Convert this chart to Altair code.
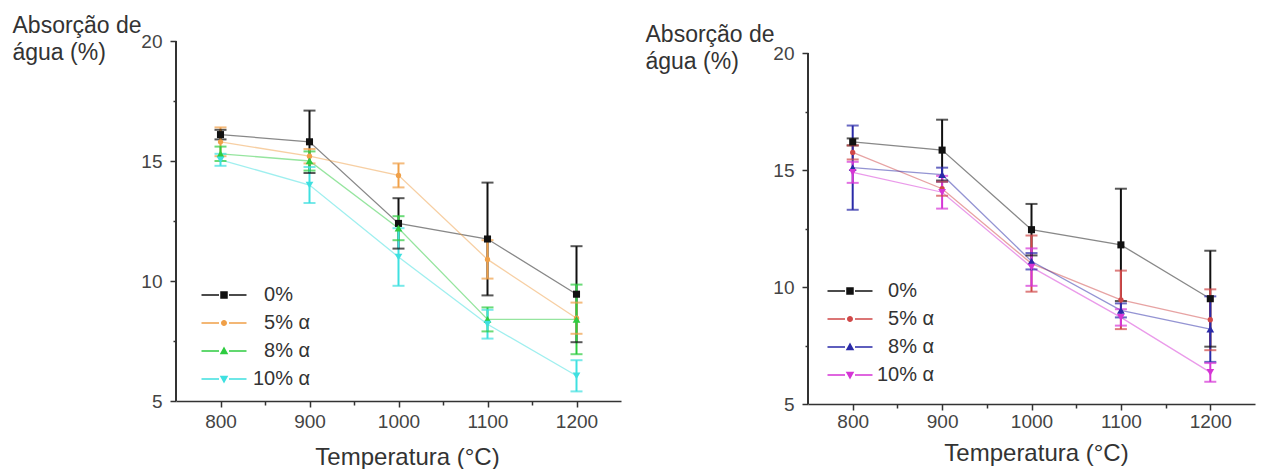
import altair as alt
import pandas as pd

temps = [800, 900, 1000, 1100, 1200]
# zero-width space + figure space keeps single-digit labels aligned like the original
series = ["\u200b\u20070%", "\u200b\u20075% α", "\u200b\u20078% α", "10% α"]
series_idx = [0, 1, 2, 3]

# left panel (values and error half-widths, %)
left_0 = [16.1, 15.8, 12.4, 11.75, 9.45]
left_0_err = [0.2, 1.3, 1.05, 2.35, 2.0]
left_5 = [15.8, 15.2, 14.4, 10.9, 8.45]
left_5_err = [0.6, 0.3, 0.5, 0.8, 0.65]
left_8 = [15.3, 15.0, 12.2, 8.4, 8.4]
left_8_err = [0.3, 0.4, 0.5, 0.5, 1.45]
left_10 = [15.05, 14.0, 11.0, 8.2, 6.05]
left_10_err = [0.25, 0.75, 1.2, 0.6, 0.65]

# right panel
right_0 = [16.2, 15.85, 12.45, 11.8, 9.5]
right_0_err = [0.15, 1.3, 1.1, 2.4, 2.05]
right_5 = [15.75, 14.2, 11.0, 9.45, 8.6]
right_5_err = [0.3, 0.3, 1.2, 1.25, 1.3]
right_8 = [15.1, 14.8, 11.1, 9.0, 8.2]
right_8_err = [1.8, 0.3, 0.35, 0.3, 1.4]
right_10 = [14.9, 14.05, 10.85, 8.7, 6.35]
right_10_err = [0.45, 0.7, 0.8, 0.35, 0.4]

left_colors = ["#111111", "#f0a048", "#2ecc40", "#3fe0e0"]
right_colors = ["#111111", "#d04848", "#2a2aa8", "#d535d5"]

point_shapes = ["square", "circle", "triangle-up", "triangle-down"]
point_sizes = [50, 28, 60, 60]

x_title = "Temperatura (°C)"
y_title = ["Absorção de", "água (%)"]
y_ticks = [5, 7.5, 10, 12.5, 15, 17.5, 20]
x_ticks = [800, 850, 900, 950, 1000, 1050, 1100, 1150, 1200]

FONT = "Liberation Sans"

# legend glyphs: line segments + marker (unit coords, 5 px per unit)
_line = "M-4.5,-0.15H-1V0.15H-4.5Z M1,-0.15H4.5V0.15H1Z "
legend_paths = [
    _line + "M-0.75,-0.75H0.75V0.75H-0.75Z",
    _line + "M-0.6,0A0.6,0.6 0 1,1 0.6,0A0.6,0.6 0 1,1 -0.6,0Z",
    _line + "M0,-0.9L0.85,0.65L-0.85,0.65Z",
    _line + "M0,0.9L0.85,-0.65L-0.85,-0.65Z",
]


def make_df(vals, errs):
    rows = []
    for i, name, v, e in zip(series_idx, series, vals, errs):
        for t, vi, ei in zip(temps, v, e):
            rows.append({"T": t, "i": i, "s": name, "v": vi, "lo": vi - ei, "hi": vi + ei})
    return pd.DataFrame(rows)


def panel(df, colors, w, h, ytop, title_x, title_y, ytx, yty, lab_pad, leg_x, leg_y, leg_off):
    xax = alt.Axis(
        values=x_ticks,
        labelExpr="datum.value % 100 === 0 ? datum.label : ''",
        format="d",
        tickSize={"condition": {"test": "datum.value % 100 === 0", "value": 6}, "value": 4},
        grid=False, domainColor="#333333", tickColor="#333333",
        domainWidth=1.5, tickWidth=1.5,
        labelFontSize=19, labelColor="#444444", labelPadding=lab_pad,
        labelFlush=False, labelOverlap=False,
        title=x_title, titleFontSize=24, titleFontWeight="normal", titleColor="#333333",
        titleX=title_x, titleY=title_y, titleAlign="center", titleBaseline="alphabetic",
    )
    yax = alt.Axis(
        values=y_ticks,
        labelExpr="datum.value % 5 === 0 ? datum.label : ''",
        tickSize={"condition": {"test": "datum.value % 5 === 0", "value": 6}, "value": 3},
        grid=False, domain=False, tickColor="#333333", tickWidth=1.5,
        labelFontSize=19, labelColor="#444444", labelPadding=8,
        title=y_title, titleFontSize=23, titleFontWeight="normal", titleColor="#333333",
        titleAngle=0, titleAlign="left", titleBaseline="alphabetic",
        titleX=ytx, titleY=yty, titleLineHeight=27,
    )
    xs = alt.Scale(domain=[750, 1250], nice=False, zero=False)
    ys = alt.Scale(domain=[5, ytop], nice=False, zero=False)
    color = alt.Color("i:N", scale=alt.Scale(domain=series_idx, range=colors), legend=None)
    base = alt.Chart(df)

    lines = base.mark_line(strokeWidth=1.3, opacity=0.5).encode(
        x=alt.X("T:Q", scale=xs, axis=xax),
        y=alt.Y("v:Q", scale=ys, axis=yax),
        color=color,
    )
    yline = base.mark_rule(color="#333333", strokeWidth=1.5).encode(
        x=alt.datum(750), y=alt.datum(5), y2=alt.datum(20)
    )
    rules = base.mark_rule(strokeWidth=2).encode(
        x="T:Q", y="lo:Q", y2="hi:Q", color=color
    )
    tick_lo = base.mark_tick(orient="horizontal", size=12, thickness=2).encode(
        x="T:Q", y="lo:Q", color=color
    )
    tick_hi = base.mark_tick(orient="horizontal", size=12, thickness=2).encode(
        x="T:Q", y="hi:Q", color=color
    )
    pts = []
    for i, shp, sz in zip(series_idx, point_shapes, point_sizes):
        pts.append(
            base.transform_filter(alt.datum.i == i)
            .mark_point(filled=True, opacity=1, shape=shp, size=sz)
            .encode(x="T:Q", y="v:Q", color=color)
        )
    leg = alt.Legend(
        orient="none", legendX=leg_x, legendY=leg_y,
        labelFontSize=20, labelFont=FONT, labelColor="#333333",
        symbolSize=100, symbolStrokeWidth=0, labelOffset=leg_off,
        rowPadding=8, padding=0, symbolOpacity=1,
    )
    legend_layer = base.mark_point(filled=True, opacity=0).encode(
        x="T:Q", y="v:Q",
        fill=alt.Fill("s:N", scale=alt.Scale(domain=series, range=colors), legend=leg, title=""),
        shape=alt.Shape("s:N", scale=alt.Scale(domain=series, range=legend_paths), legend=leg, title=""),
    )
    return alt.layer(lines, yline, rules, tick_lo, tick_hi, *pts, legend_layer).properties(
        width=w, height=h
    )


left = panel(make_df([left_0, left_5, left_8, left_10],
                     [left_0_err, left_5_err, left_8_err, left_10_err]),
             left_colors, 445, 360, 20, 231, 63, -164, -9, 5, 38, 244, 19)
right = panel(make_df([right_0, right_5, right_8, right_10],
                      [right_0_err, right_5_err, right_8_err, right_10_err]),
              right_colors, 447, 363, 20 + 12 / 23.4, 228, 56, -163, 0, 2, 32, 240, 17)

chart = (
    alt.hconcat(left, right, spacing=24)
    .resolve_scale(color="independent", fill="independent", shape="independent")
    .properties(padding={"left": 12, "top": 14, "right": 4, "bottom": 0}, background="white")
    .configure_view(strokeWidth=0)
    .configure_axis(labelFont=FONT, titleFont=FONT)
    .configure_legend(labelFont=FONT)
)

chart.save("out.html", embed_options={"renderer": "svg", "actions": False})
